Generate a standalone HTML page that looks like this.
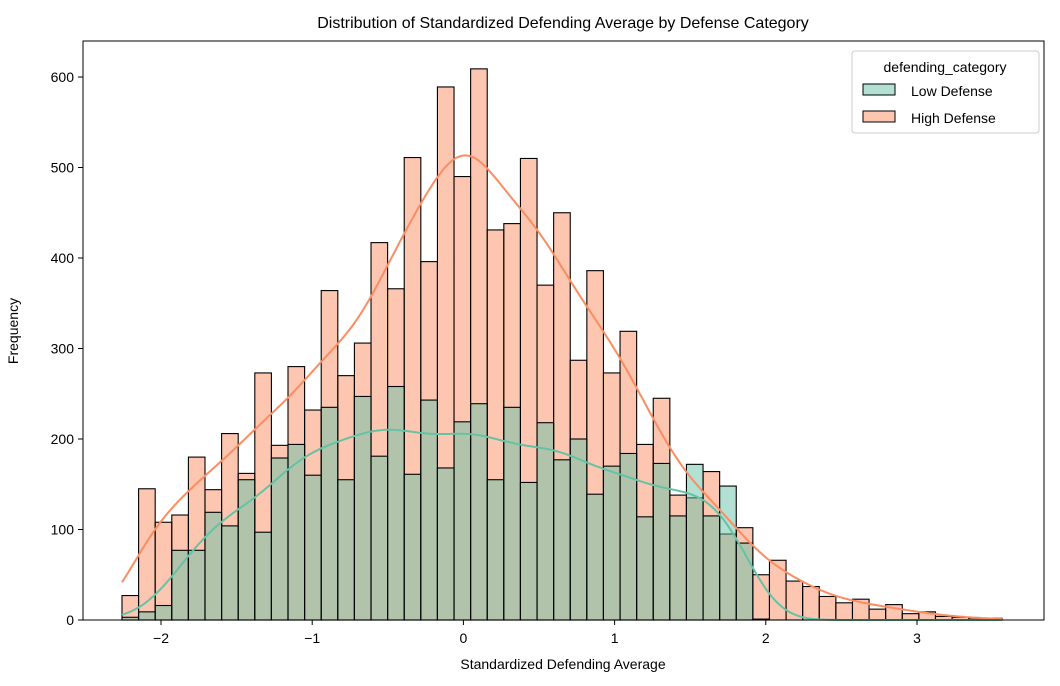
<!DOCTYPE html>
<html><head><meta charset="utf-8"><style>
html,body{margin:0;padding:0;background:#fff;}
svg text{font-family:"Liberation Sans","DejaVu Sans",sans-serif;fill:#000;}
</style></head><body>
<svg id="chart" width="1060" height="681" viewBox="0 0 1060 681" xmlns="http://www.w3.org/2000/svg">
<text x="563" y="28" font-size="16" text-anchor="middle">Distribution of Standardized Defending Average by Defense Category</text>
<g id="bars-high"></g>
<g id="bars-low"></g>
<g id="kde"></g>
<rect x="83" y="41" width="961" height="579" fill="none" stroke="#000" stroke-width="1"/>
<g id="xaxis"></g>
<g id="yaxis"></g>
<text x="563" y="669" font-size="14" text-anchor="middle">Standardized Defending Average</text>
<text x="0" y="0" font-size="14" text-anchor="middle" transform="translate(18,331) rotate(-90)">Frequency</text>
<g>
<rect x="852" y="51" width="187" height="82" rx="3" fill="#fff" fill-opacity="0.8" stroke="#ccc"/>
<text x="945" y="72" font-size="14" text-anchor="middle">defending_category</text>
<g>
<rect x="863" y="84" width="32" height="11" fill="#66c2a5" fill-opacity="0.5" stroke="#000"/>
<text x="911" y="96" font-size="14">Low Defense</text></g>
<g>
<rect x="863" y="111" width="32" height="11" fill="#fc8d62" fill-opacity="0.5" stroke="#000"/>
<text x="911" y="123" font-size="14">High Defense</text></g>
</g>
</svg>
<script>
const binStart = -2.258;
const binWidth = 0.1098;
const highCounts = [27,145,108,116,180,144,206,162,273,193,280,232,364,270,306,417,366,511,396,589,490,609,431,438,510,370,450,287,386,273,319,194,245,138,135,164,95,102,50,66,43,37,26,19,23,12,17,7,9,4,3,2,2];
const lowCounts = [3,9,16,77,77,119,104,155,97,179,194,160,235,155,247,181,258,161,243,168,219,239,155,235,152,218,177,200,139,170,184,114,173,115,172,115,148,85,1,0,0,0,0,0,0,0,0,0,0,0,0,0,0];
const xTicks = [-2,-1,0,1,2,3];
const yTicks = [0,100,200,300,400,500,600];
const NS='http://www.w3.org/2000/svg';
function xs(v){return 161+(v+2)*151.2;}
function ys(v){return 620-v*0.905;}
function mk(tag,attrs,parent){const e=document.createElementNS(NS,tag);for(const k in attrs)e.setAttribute(k,attrs[k]);parent.appendChild(e);return e;}
function drawBars(counts,color,gid,name){
  const g=document.getElementById(gid);
  counts.forEach((c,i)=>{
    if(c<=0)return;
    const x0=xs(binStart+i*binWidth), x1=xs(binStart+(i+1)*binWidth);
    const r=mk('rect',{x:x0,y:ys(c),width:x1-x0,height:ys(0)-ys(c),fill:color,'fill-opacity':0.5,stroke:'#000','stroke-width':1.1},g);
    
    
  });
}
drawBars(highCounts,'#fc8d62','bars-high','high-bar');
drawBars(lowCounts,'#66c2a5','bars-low','low-bar');
function kde(counts,color,name){
  const bw=0.18, xmin=binStart, xmax=binStart+counts.length*binWidth;
  let pts=[];
  for(let k=0;k<=300;k++){
    const x=xmin+(xmax-xmin)*k/300;
    let s=0;
    counts.forEach((c,i)=>{const m=binStart+(i+0.5)*binWidth;const z=(x-m)/bw;s+=c*Math.exp(-0.5*z*z);});
    s=s*binWidth/(bw*Math.sqrt(2*Math.PI));
    pts.push(xs(x).toFixed(1)+','+ys(s).toFixed(1));
  }
  const p=mk('polyline',{points:pts.join(' '),fill:'none',stroke:color,'stroke-width':2},document.getElementById('kde'));
  
  
}
kde(lowCounts,'#66c2a5','low-kde-curve');
kde(highCounts,'#fc8d62','high-kde-curve');
const xa=document.getElementById('xaxis');
xTicks.forEach(t=>{
  mk('line',{x1:xs(t),x2:xs(t),y1:620,y2:625,stroke:'#000'},xa);
  const tx=mk('text',{x:xs(t),y:643,'font-size':14,'text-anchor':'middle'},xa);
  tx.textContent=t<0?'\u2212'+Math.abs(t):String(t);
  
  
});
const ya=document.getElementById('yaxis');
yTicks.forEach(t=>{
  mk('line',{x1:78,x2:83,y1:ys(t),y2:ys(t),stroke:'#000'},ya);
  const tx=mk('text',{x:74,y:ys(t)+5,'font-size':14,'text-anchor':'end'},ya);
  tx.textContent=String(t);
  
  
});
</script>
</body></html>
